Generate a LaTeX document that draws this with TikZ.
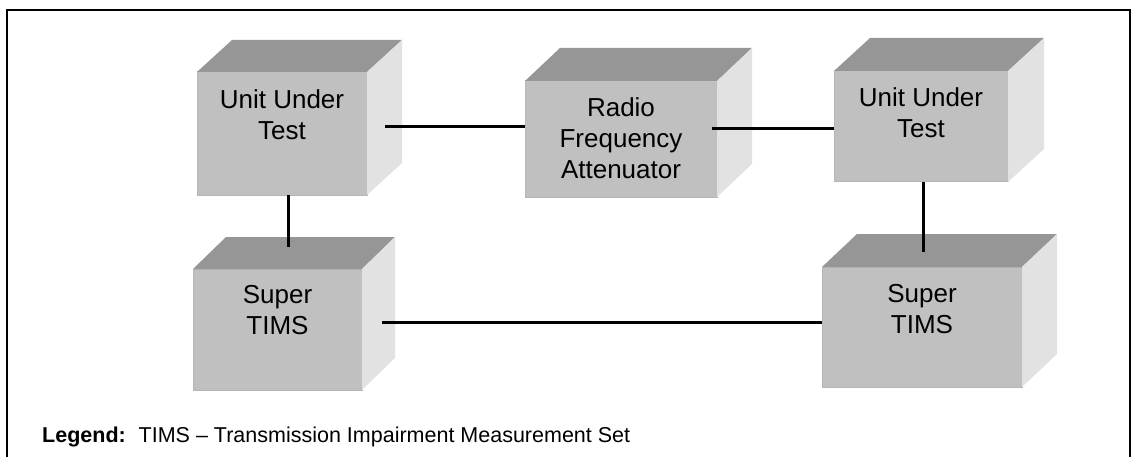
\documentclass[tikz,border=0pt]{standalone}
\usepackage{fontspec}
\setmainfont{Liberation Sans}
\usetikzlibrary{calc}

\definecolor{frontgray}{HTML}{C0C0C0}
\definecolor{topgray}{HTML}{969696}
\definecolor{sidegray}{HTML}{E2E2E2}
\definecolor{edgegray}{HTML}{B6B6B6}

\tikzset{
  front/.style={fill=frontgray, draw=edgegray, line width=1pt,
                inner sep=0pt, outer sep=0pt},
  boxtext/.style={anchor=base, inner sep=0pt,
                  font=\fontsize{26pt}{31pt}\selectfont},
  wire/.style={draw=black, line width=3pt},
  frameline/.style={draw=black, line width=2pt},
}

% top and right faces of a box, built on the front face node #1
\newcommand\drawcube[3]{%
  \fill[topgray] (#1.north west) -- ++(#2,-#3)
       -- ($(#1.north east)+(#2,-#3)$) -- (#1.north east) -- cycle;
  \fill[sidegray] (#1.north east) -- ++(#2,-#3)
       -- ($(#1.south east)+(#2,-#3)$) -- (#1.south east) -- cycle;
}

\begin{document}
\begin{tikzpicture}[x=1pt, y=-1pt]
\useasboundingbox (0,0) rectangle (1134,457);

% outer frame
\draw[frameline] (7,470) -- (7,10) -- (1130,10) -- (1130,470);

% front faces
\node[front, minimum width=170pt, minimum height=123pt] (uut1) at (282,133.5) {};
\node[front, minimum width=192pt, minimum height=116pt] (rf)   at (621,139) {};
\node[front, minimum width=174pt, minimum height=111pt] (uut2) at (921,126.5) {};
\node[front, minimum width=169pt, minimum height=121pt] (st1)  at (277.5,329.5) {};
\node[front, minimum width=200pt, minimum height=120pt] (st2)  at (922,327) {};

% depth faces
\drawcube{uut1}{35}{32}
\drawcube{rf}{35}{33}
\drawcube{uut2}{36}{33}
\drawcube{st1}{33}{32}
\drawcube{st2}{35}{33}

% box labels
\node[boxtext] (uut1-text) at (282,109)
  {\begin{tabular}[t]{@{}c@{}}Unit Under\\Test\end{tabular}};
\node[boxtext] (rf-text) at (621,117)
  {\begin{tabular}[t]{@{}c@{}}Radio\\Frequency\\Attenuator\end{tabular}};
\node[boxtext] (uut2-text) at (921,107)
  {\begin{tabular}[t]{@{}c@{}}Unit Under\\Test\end{tabular}};
\node[boxtext] (st1-text) at (277.5,303)
  {\begin{tabular}[t]{@{}c@{}}Super\\TIMS\end{tabular}};
\node[boxtext] (st2-text) at (922,302)
  {\begin{tabular}[t]{@{}c@{}}Super\\TIMS\end{tabular}};

% connection points
\coordinate (a1) at ($(uut1.east)+(18,-6.5)$);
\coordinate (a2) at ($(rf.east)+(-5,-10)$);
\coordinate (a3) at ($(uut1.south)+(6,0)$);
\coordinate (b3) at ($(st1.north)+(0,-22)$);
\coordinate (a4) at ($(uut2.south)+(2,0)$);
\coordinate (b4) at ($(st2.north)+(0,-15)$);
\coordinate (a5) at ($(st1.east)+(20,-7.5)$);

% cables
\draw[wire] (a1) -- (a1 -| rf.west);
\draw[wire] (a2) -- (a2 -| uut2.west);
\draw[wire] (a3) -- (a3 |- b3);
\draw[wire] (a4) -- (a4 |- b4);
\draw[wire] (a5) -- (a5 -| st2.west);

% legend
\node[anchor=base west, inner sep=0pt, font=\fontsize{21.5pt}{25pt}\selectfont]
  (legend) at (42,442)
  {\textbf{Legend:}\hspace{0.6em}TIMS – Transmission Impairment Measurement Set};
\end{tikzpicture}
\end{document}
